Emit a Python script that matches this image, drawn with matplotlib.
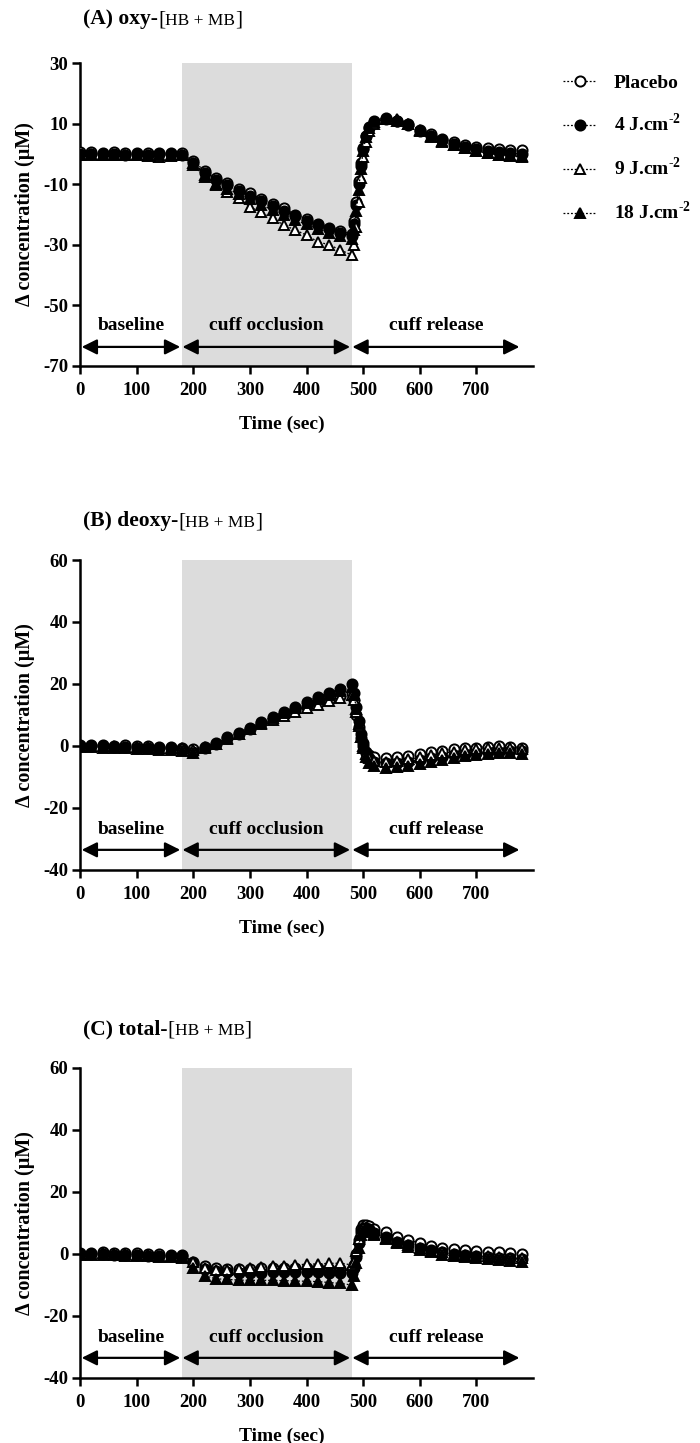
import matplotlib
matplotlib.use("Agg")
import matplotlib.pyplot as plt

plt.rcParams['font.family'] = ['Liberation Serif', 'DejaVu Serif']
plt.rcParams['font.weight'] = 'bold'
plt.rcParams['axes.unicode_minus'] = False
plt.rcParams['mathtext.fontset'] = 'custom'
plt.rcParams['mathtext.rm'] = 'Liberation Serif:bold'
plt.rcParams['mathtext.bf'] = 'Liberation Serif:bold'

# time points (sec)
time_s = [0, 20, 40, 60, 80, 100, 120, 140, 160, 180,
          200, 220, 240, 260, 280, 300, 320, 340, 360, 380, 400, 420, 440, 460, 480,
          484, 488, 492, 496, 500, 505, 510,
          520, 540, 560, 580, 600, 620, 640, 660, 680, 700, 720, 740, 760, 780]

groups = ['Placebo', r'4 J.cm$^{\text{-2}}$', r'9 J.cm$^{\text{-2}}$', r'18 J.cm$^{\text{-2}}$']

# (A) oxy
oxy_placebo = [0.5, 0.6, 0.4, 0.5, 0.3, 0.4, 0.2, 0.3, 0.4, 0.2,
               -2.5, -5.5, -8.0, -9.5, -11.5, -13.0, -14.8, -16.5, -18.0, -20.0, -21.5, -23.0, -24.3, -25.5, -26.5,
               -22, -16, -9, -3, 2, 6, 8.5,
               10.5, 11.5, 11.0, 9.8, 8.0, 6.5, 5.0, 4.0, 3.0, 2.3, 1.8, 1.5, 1.2, 1.2]
oxy_4j = [0, 0.1, -0.1, 0, -0.2, 0, -0.3, -0.1, 0, -0.2,
          -3.0, -6.3, -8.6, -10.3, -12.3, -14.0, -15.7, -17.2, -18.7, -20.5, -22.0, -23.5, -24.8, -26.0, -27.0,
          -23, -17, -10, -4, 1.5, 6, 9,
          11, 12, 11, 9.5, 7.5, 5.8, 4.5, 3.3, 2.3, 1.5, 0.8, 0.5, 0.2, 0]
oxy_9j = [-0.3, -0.2, -0.4, -0.3, -0.5, -0.4, -0.6, -1.0, -0.8, -0.5,
          -3.0, -7.0, -10.3, -12.6, -14.6, -17.5, -19.2, -21.2, -23.5, -25.1, -26.8, -29.0, -30.0, -31.7, -33.4,
          -30, -24, -16, -8, -1, 4, 7.5,
          10, 11.5, 11.5, 10.0, 7.8, 5.8, 4.2, 3.0, 2.0, 1.0, 0.2, -0.3, -0.8, -1.0]
oxy_18j = [-0.2, -0.1, -0.3, -0.2, -0.4, -0.3, -0.5, -0.4, -0.3, -0.4,
           -3.5, -7.5, -10.0, -11.5, -13.2, -15.0, -16.8, -18.5, -20.0, -21.8, -23.3, -24.8, -26.0, -27.0, -28.2,
           -25, -19, -12, -5, 1, 5.5, 8.5,
           10.5, 11.5, 11, 9.8, 7.6, 5.6, 4.0, 2.8, 1.8, 1.0, 0.3, -0.2, -0.5, -0.8]

# (B) deoxy
deoxy_placebo = [0.3, 0.2, 0.3, 0.1, 0.2, 0.0, 0.1, -0.2, -0.3, -0.5,
                 -1.0, -0.3, 0.8, 2.5, 4.0, 5.5, 7.3, 8.8, 10.2, 11.5, 12.8, 14.0, 15.0, 16.0, 17.0,
                 15, 10, 6, 2.5, 0, -2, -3,
                 -3.5, -3.8, -3.6, -3.2, -2.6, -2.0, -1.5, -1.0, -0.8, -0.5, -0.2, 0.0, -0.2, -0.5]
deoxy_4j = [0, -0.1, 0, -0.3, -0.4, -0.6, -0.7, -0.8, -0.8, -1.0,
            -1.8, -0.5, 0.9, 2.8, 4.3, 5.9, 7.8, 9.5, 11.1, 12.7, 14.3, 15.9, 17.2, 18.5, 20.0,
            17, 12.5, 8, 4, 1, -2.3, -4.0,
            -5.0, -5.5, -5.5, -5.0, -4.5, -4.0, -3.5, -3.0, -2.6, -2.2, -2.0, -1.8, -1.6, -1.7]
deoxy_9j = [0.2, 0.1, 0.0, -0.1, -0.2, -0.3, -0.3, -0.5, -0.7, -0.8,
            -1.2, -0.4, 0.8, 2.6, 4.0, 5.4, 7.0, 8.5, 9.8, 11.0, 12.2, 13.3, 14.5, 15.5, 16.5,
            15, 11, 6.5, 3, 0, -2.5, -4,
            -4.8, -5.0, -4.8, -4.3, -3.7, -3.0, -2.4, -1.8, -1.3, -0.9, -0.6, -0.5, -0.7, -1.0]
deoxy_18j = [-0.2, -0.3, -0.5, -0.6, -0.8, -0.9, -1.0, -1.2, -1.3, -1.5,
             -2.2, -0.8, 0.5, 2.2, 3.8, 5.5, 7.3, 9.0, 10.7, 12.3, 13.8, 15.2, 16.5, 17.8, 19.0,
             16.5, 12, 7, 3, -0.5, -3.5, -5.5,
             -6.5, -7.0, -6.8, -6.3, -5.7, -5.0, -4.4, -3.8, -3.3, -2.9, -2.6, -2.4, -2.3, -2.5]

# (C) total
total_placebo = [0.4, 0.3, 0.5, 0.3, 0.4, 0.2, 0.1, 0.0, -0.2, -0.2,
                 -2.5, -4.0, -4.5, -4.8, -4.8, -4.7, -4.5, -4.5, -4.6, -4.5, -4.6, -4.6, -4.7, -4.8, -5.0,
                 -3.5, 0, 4.5, 8.0, 9.5, 9.5, 9.0,
                 8.0, 7.0, 5.6, 4.5, 3.5, 2.5, 2.0, 1.5, 1.2, 1.0, 0.8, 0.6, 0.4, 0.0]
total_4j = [0, -0.1, 0.1, -0.2, -0.3, -0.4, -0.5, -0.6, -0.7, -0.8,
            -3.0, -4.8, -5.5, -5.8, -6.0, -6.0, -6.0, -5.9, -5.8, -5.8, -5.8, -5.9, -6.0, -6.0, -6.2,
            -4.5, -1, 3.5, 7, 8.5, 8.5, 8.0,
            6.8, 5.5, 4.0, 3.0, 2.0, 1.2, 0.5, 0.0, -0.4, -0.7, -1.0, -1.2, -1.4, -1.6]
total_9j = [0.2, 0.1, 0.2, 0.0, -0.1, -0.2, -0.3, -0.5, -0.6, -0.7,
            -2.5, -4.5, -5.0, -5.0, -4.8, -4.6, -4.3, -4.0, -3.8, -3.5, -3.3, -3.2, -3.0, -3.0, -3.5,
            -2.5, 1, 5, 7.5, 8.5, 8.2, 7.5,
            6.5, 5.2, 3.8, 2.8, 1.8, 1.0, 0.5, 0.0, -0.3, -0.6, -0.8, -1.0, -1.2, -1.4]
total_18j = [-0.2, -0.3, -0.2, -0.4, -0.5, -0.6, -0.7, -0.9, -1.0, -1.2,
             -4.5, -7.0, -8.0, -8.2, -8.4, -8.5, -8.5, -8.5, -8.6, -8.7, -8.8, -8.9, -9.2, -9.5, -10.0,
             -7, -3, 2, 6, 7.5, 7.5, 7.0,
             6.0, 4.8, 3.5, 2.3, 1.3, 0.5, -0.2, -0.7, -1.1, -1.4, -1.7, -2.0, -2.3, -2.6]

phases = ['baseline', 'cuff occlusion', 'cuff release']
phase_edges = [(3, 177), (181, 477), (481, 776)]
occlusion = (180, 480)

marker_styles = [('o', 'white'), ('o', 'black'), ('^', 'white'), ('^', 'black')]


def draw_panel(ax, series, yticks, arrow_y, label_y):
    ax.axvspan(occlusion[0], occlusion[1], color='#dcdcdc', lw=0, zorder=0)
    lines = []
    for vals, (m, fc) in zip(series, marker_styles):
        ln, = ax.plot(time_s, vals, color='black', ls=(0, (1.5, 1.5)), lw=0.9,
                      marker=m, ms=7.3, mfc=fc, mec='black', mew=1.4, zorder=3)
        lines.append(ln)
    for (x0, x1), name in zip(phase_edges, phases):
        ax.annotate('', xy=(x1, arrow_y), xytext=(x0, arrow_y),
                    arrowprops=dict(arrowstyle='<|-|>', color='black', lw=1.6,
                                    mutation_scale=23, shrinkA=0, shrinkB=0))
        ax.text((x0 + x1) / 2, label_y, name, ha='center', va='center',
                fontsize=14, fontweight='bold')
    ax.set_xlim(0, 800)
    ax.set_ylim(yticks[-1], yticks[0])
    ax.set_xticks([0, 100, 200, 300, 400, 500, 600, 700])
    ax.set_yticks(yticks)
    for s in ['top', 'right']:
        ax.spines[s].set_visible(False)
    for s in ['left', 'bottom']:
        ax.spines[s].set_linewidth(1.8)
    ax.tick_params(axis='both', length=5.5, width=1.8, labelsize=13.5)
    ax.tick_params(axis='x', pad=6)
    ax.tick_params(axis='y', pad=3)
    ax.set_xlabel('Time (sec)', fontsize=14, fontweight='bold', labelpad=12, x=0.445)
    ax.set_ylabel('Δ concentration (μM)', fontsize=14.5, fontweight='bold', labelpad=6)
    return lines


def panel_title(ax, x, y, head):
    # bold head, then small-caps style "[HB + MB]" in regular weight
    t1 = ax.figure.text(x, y, head, fontsize=15.5, fontweight='bold', va='bottom')
    a2 = ax.annotate('[', xy=(1, 0), xycoords=t1, va='bottom', ha='left',
                     fontsize=15.5, fontweight='normal', annotation_clip=False)
    a3 = ax.annotate('HB + MB', xy=(1, 0), xycoords=a2, va='bottom', ha='left',
                     fontsize=12.5, fontweight='normal', annotation_clip=False)
    ax.annotate(']', xy=(1, 0), xycoords=a3, va='bottom', ha='left',
                fontsize=15.5, fontweight='normal', annotation_clip=False)


fig = plt.figure(figsize=(7, 14.43), dpi=100)
H = 1443.0
left = 80 / 700.0
width = 453 / 700.0
axA = fig.add_axes([left, 1 - 366 / H, width, 303 / H])
axB = fig.add_axes([left, 1 - 870 / H, width, 310 / H])
axC = fig.add_axes([left, 1 - 1378 / H, width, 310 / H])

lines = draw_panel(axA, [oxy_placebo, oxy_4j, oxy_9j, oxy_18j],
                   [30, 10, -10, -30, -50, -70], -63.7, -56.5)
draw_panel(axB, [deoxy_placebo, deoxy_4j, deoxy_9j, deoxy_18j],
           [60, 40, 20, 0, -20, -40], -33.5, -27)
draw_panel(axC, [total_placebo, total_4j, total_9j, total_18j],
           [60, 40, 20, 0, -20, -40], -33.5, -27)

panel_title(axA, 83 / 700.0, 1 - 29 / H, '(A) oxy-')
panel_title(axB, 83 / 700.0, 1 - 531 / H, '(B) deoxy-')
panel_title(axC, 83 / 700.0, 1 - 1039 / H, '(C) total-')

fig.legend(lines, groups, loc='upper left', bbox_to_anchor=(563 / 700.0, 1 - 74 / H),
           frameon=False, fontsize=14, handlelength=1.7, handletextpad=0.9,
           labelspacing=1.1, borderpad=0, borderaxespad=0)

fig.savefig('out.png', dpi=100)
